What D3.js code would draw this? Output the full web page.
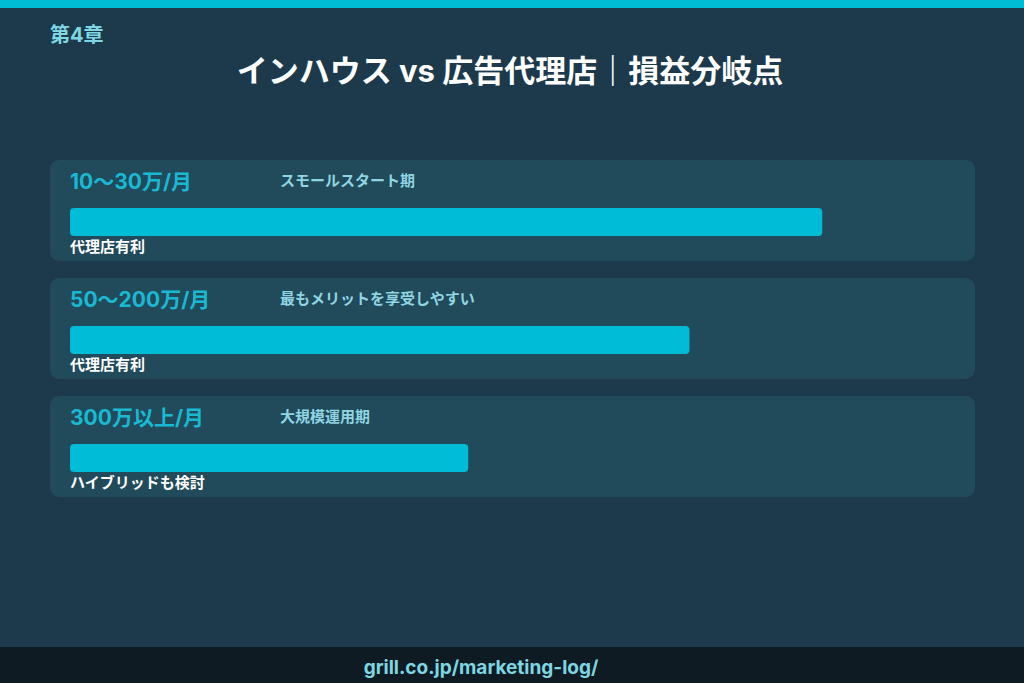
<!DOCTYPE html>
<html><head><meta charset="utf-8">
<script src="https://cdn.jsdelivr.net/npm/d3@7"></script>
<style>html,body{margin:0;padding:0;background:#1c3a4b;}svg{display:block;}</style>
</head><body>
<script>
const ranges = ["10〜30万/月", "50〜200万/月", "300万以上/月"];
const phases = ["スモールスタート期", "最もメリットを享受しやすい", "大規模運用期"];
const verdicts = ["代理店有利", "代理店有利", "ハイブリッドも検討"];
const values = [85, 70, 45];
const maxValue = 100;

const W = 1024, H = 683;
const font = "Inter,'Noto Sans CJK JP','Noto Sans',sans-serif";
const svg = d3.select("body").append("svg").attr("width", W).attr("height", H);

svg.append("rect").attr("width", W).attr("height", H).attr("fill", "#1c3a4b");
svg.append("rect").attr("width", W).attr("height", 8).attr("fill", "#00bcd4");
svg.append("rect").attr("y", 647).attr("width", W).attr("height", 36).attr("fill", "#0e1b22");

svg.append("text").attr("x", 50).attr("y", 42).attr("fill", "#7fd6e3")
  .attr("font-family", font).attr("font-weight", 700).attr("font-size", 20).text("第4章");
svg.append("text").attr("x", 510).attr("y", 82).attr("text-anchor", "middle").attr("fill", "#ffffff")
  .attr("font-family", font).attr("font-weight", 700).attr("font-size", 31).text("インハウス vs 広告代理店｜損益分岐点");
svg.append("text").attr("x", 481).attr("y", 674).attr("text-anchor", "middle").attr("fill", "#7fd6e3")
  .attr("font-family", font).attr("font-weight", 700).attr("font-size", 19).text("grill.co.jp/marketing-log/");

const y = d3.scaleBand().domain(ranges).range([160, 497]).paddingInner(17 / 118).paddingOuter(0);
const x = d3.scaleLinear().domain([0, maxValue]).range([70, 955]);

const rows = svg.selectAll("g.row").data(ranges.map((r, i) => ({r, p: phases[i], v: values[i], t: verdicts[i]})))
  .enter().append("g").attr("class", "row").attr("transform", d => `translate(0,${y(d.r)})`);

rows.append("rect").attr("x", 50).attr("width", 925).attr("height", y.bandwidth()).attr("rx", 9).attr("fill", "#214a5b");
rows.append("text").attr("x", 70).attr("y", 29).attr("fill", "#19b9d3")
  .attr("font-family", font).attr("font-weight", 700).attr("font-size", 21).text(d => d.r);
rows.append("text").attr("x", 280).attr("y", 26).attr("fill", "#8fd5e2")
  .attr("font-family", font).attr("font-weight", 700).attr("font-size", 15).text(d => d.p);
rows.append("rect").attr("x", x(0)).attr("y", 48).attr("height", 28).attr("rx", 4)
  .attr("width", d => x(d.v) - x(0)).attr("fill", "#00bcd6");
rows.append("text").attr("x", 70).attr("y", 92).attr("fill", "#ffffff")
  .attr("font-family", font).attr("font-weight", 700).attr("font-size", 15).text(d => d.t);
</script>
</body></html>
